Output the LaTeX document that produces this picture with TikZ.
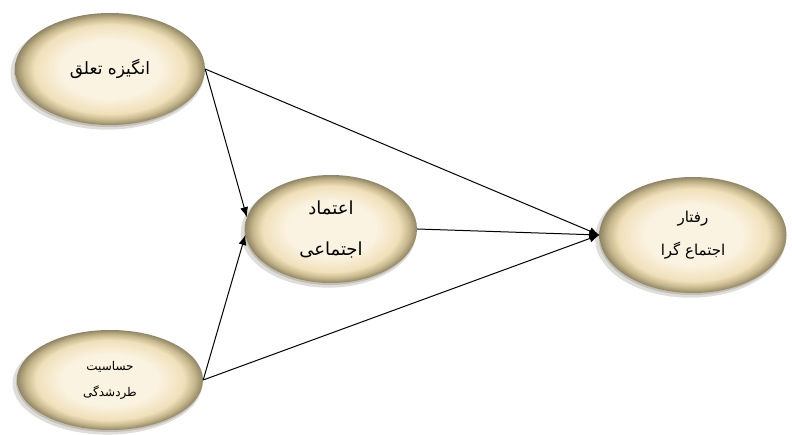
\documentclass[tikz,border=0pt]{standalone}
\usepackage{fontspec}
\usetikzlibrary{shapes.geometric,arrows.meta,shadows}
\newfontfamily\arabicfont[Script=Arabic]{DejaVu Sans}
\TeXXeTstate=1
\definecolor{eggA}{HTML}{FBF3E1}
\definecolor{eggB}{HTML}{F0E0BA}
\definecolor{eggC}{HTML}{C6B68C}
\definecolor{eggD}{HTML}{8F8566}
\definecolor{shadowc}{HTML}{6E6550}
\pgfdeclareradialshading{eggshade}{\pgfpoint{0bp}{0bp}}{color(0bp)=(eggA); color(13bp)=(eggA); color(20bp)=(eggB); color(22.8bp)=(eggC); color(25bp)=(eggD); color(50bp)=(eggD)}
\tikzset{
  egg/.style={ellipse, inner sep=0pt, shading=eggshade, align=center,
    drop shadow={shadow xshift=-2.5pt, shadow yshift=-3.5pt, fill=shadowc, opacity=.22, shadow scale=1.02},
    drop shadow={shadow xshift=-1pt, shadow yshift=-2pt, fill=shadowc, opacity=.25, shadow scale=1.0}},
  conn/.style={draw=black, line width=1pt, -{Latex[length=10pt,width=8pt]}}
}
\begin{document}
\begin{tikzpicture}[x=1pt,y=-1pt]
\useasboundingbox (0,0) rectangle (792,435);
\node[egg, minimum width=190pt, minimum height=112pt, font=\arabicfont\fontsize{17}{20}\selectfont] (tl) at (110,69) {\beginR انگیزه تعلق\endR};
\node[egg, minimum width=172pt, minimum height=108pt, font=\arabicfont\fontsize{18}{21}\selectfont] (mid) at (331,229) {\beginR اعتماد\endR\\[20pt]\beginR اجتماعی\endR};
\node[egg, minimum width=187pt, minimum height=116pt, font=\arabicfont\fontsize{15}{18}\selectfont] (rt) at (693,235) {\beginR رفتار\endR\\[15pt]\beginR اجتماع گرا\endR};
\node[egg, minimum width=186pt, minimum height=100pt, font=\arabicfont\fontsize{12}{14}\selectfont] (bl) at (110,380) {\beginR حساسیت\endR\\[12pt]\beginR طردشدگی\endR};
\draw[conn] (tl.east) -- (mid.172);
\draw[conn] (bl.east) -- (mid.184);
\draw[conn] (tl.east) -- (rt.west);
\draw[conn] (mid.east) -- (rt.west);
\draw[conn] (bl.east) -- (rt.west);
\end{tikzpicture}
\end{document}
